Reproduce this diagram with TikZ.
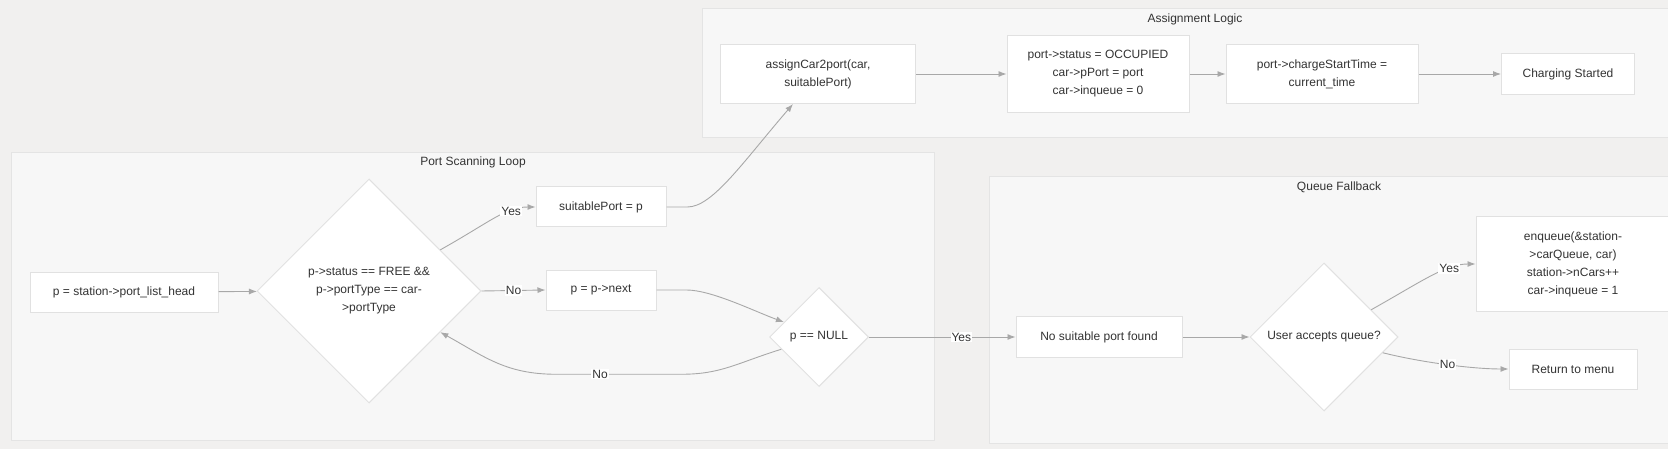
\documentclass[tikz,border=0pt]{standalone}
\usepackage{fontspec}
\setmainfont{Liberation Sans}
\usetikzlibrary{shapes.geometric,arrows.meta}
\definecolor{canvas}{RGB}{241,240,239}
\definecolor{clusterbg}{RGB}{247,247,247}
\definecolor{clusterline}{RGB}{228,228,228}
\definecolor{boxline}{RGB}{225,225,225}
\definecolor{edgegray}{RGB}{168,168,168}
\definecolor{txt}{RGB}{51,51,51}
\tikzset{
	stepbox/.style={draw=boxline,fill=white,line width=1pt,text=txt,align=center,inner sep=0pt},
	decide/.style={diamond,aspect=1,draw=boxline,fill=white,line width=1pt,text=txt,align=center,inner sep=0pt},
	cluster/.style={draw=clusterline,fill=clusterbg,line width=1pt},
	ctitle/.style={text=txt,inner sep=0pt},
	flow/.style={draw=edgegray,line width=.9pt,->},
	lbl/.style={fill=white,text=txt,inner sep=1pt},
}
\begin{document}
\begin{tikzpicture}[x=1pt,y=-1pt,>={Latex[length=8pt,width=6pt]},font=\fontsize{12}{18}\selectfont]
		\clip (0,0) rectangle (1668,449);
		\fill[canvas] (0,0) rectangle (1668,449);
		% subgraphs
		\draw[cluster] (11,153) rectangle (934,440);
		\draw[cluster] (702,9) rectangle (1689,138);
		\draw[cluster] (989,177) rectangle (1689,443);
		\node[ctitle] (scantitle) at (473,162) {Port Scanning Loop};
		\node[ctitle] (assigntitle) at (1195,19) {Assignment Logic};
		\node[ctitle] (queuetitle) at (1339,187) {Queue Fallback};
		% port scanning
		\node[stepbox,minimum width=188,minimum height=40] (init) at (124,292) {p = station->port\_list\_head};
		\node[decide,minimum width=224,minimum height=224] (freechk) at (369,291) {p->status == FREE \&\&\\p->portType == car-\\>portType};
		\node[stepbox,minimum width=130,minimum height=40] (suit) at (601,207) {suitablePort = p};
		\node[stepbox,minimum width=110,minimum height=40] (pnext) at (601,290) {p = p->next};
		\node[decide,minimum width=99,minimum height=99] (isnull) at (819,337) {p == NULL};
		% assignment
		\node[stepbox,minimum width=195,minimum height=59] (assign) at (818,74) {assignCar2port(car,\\suitablePort)};
		\node[stepbox,minimum width=182,minimum height=77] (setport) at (1098,74) {port->status = OCCUPIED\\car->pPort = port\\car->inqueue = 0};
		\node[stepbox,minimum width=192,minimum height=59] (stime) at (1322,74) {port->chargeStartTime =\\current\_time};
		\node[stepbox,minimum width=133,minimum height=41] (started) at (1568,74) {Charging Started};
		% queue
		\node[stepbox,minimum width=166,minimum height=41] (nofound) at (1099,337) {No suitable port found};
		\node[decide,minimum width=148,minimum height=148] (accept) at (1324,337) {User accepts queue?};
		\node[stepbox,minimum width=194,minimum height=94] (enq) at (1573,264) {enqueue(\&station-\\>carQueue, car)\\station->nCars++\\car->inqueue = 1};
		\node[stepbox,minimum width=128,minimum height=40] (back) at (1573,369) {Return to menu};
		% edges
		\draw[flow] (init) -- (freechk);
		\draw[flow] (freechk.30) .. controls +(50,-28) and +(-30,0) .. (suit.west) node[lbl,pos=.7]{Yes};
		\draw[flow] (freechk.east) -- (pnext.west) node[lbl,midway]{No};
		\draw[flow] (pnext.east) -- ++(30,0) .. controls +(25,0) and +(-30,-11) .. (isnull.157);
		\draw[flow] (isnull.198) .. controls +(-45,14) and +(40,0) .. ++(-100,25) -- ++(-125,0) node[lbl,pos=.65]{No} .. controls +(-50,0) and +(45,25) .. (freechk.-30);
		\draw[flow] (isnull.east) -- (nofound.west) node[lbl,pos=.63]{Yes};
		\draw[flow] (suit.east) -- ++(21,0) .. controls +(25,0) and +(-50,58) .. ([xshift=-25pt]assign.south);
		\draw[flow] (assign) -- (setport);
		\draw[flow] (setport) -- (stime);
		\draw[flow] (stime) -- (started);
		\draw[flow] (nofound) -- (accept);
		\draw[flow] (accept.30) .. controls +(50,-28) and +(-30,0) .. (enq.west) node[lbl,pos=.7]{Yes};
		\draw[flow] (accept.-15) .. controls +(40,10) and +(-35,0) .. (back.west) node[lbl,pos=.5]{No};
\end{tikzpicture}
\end{document}
